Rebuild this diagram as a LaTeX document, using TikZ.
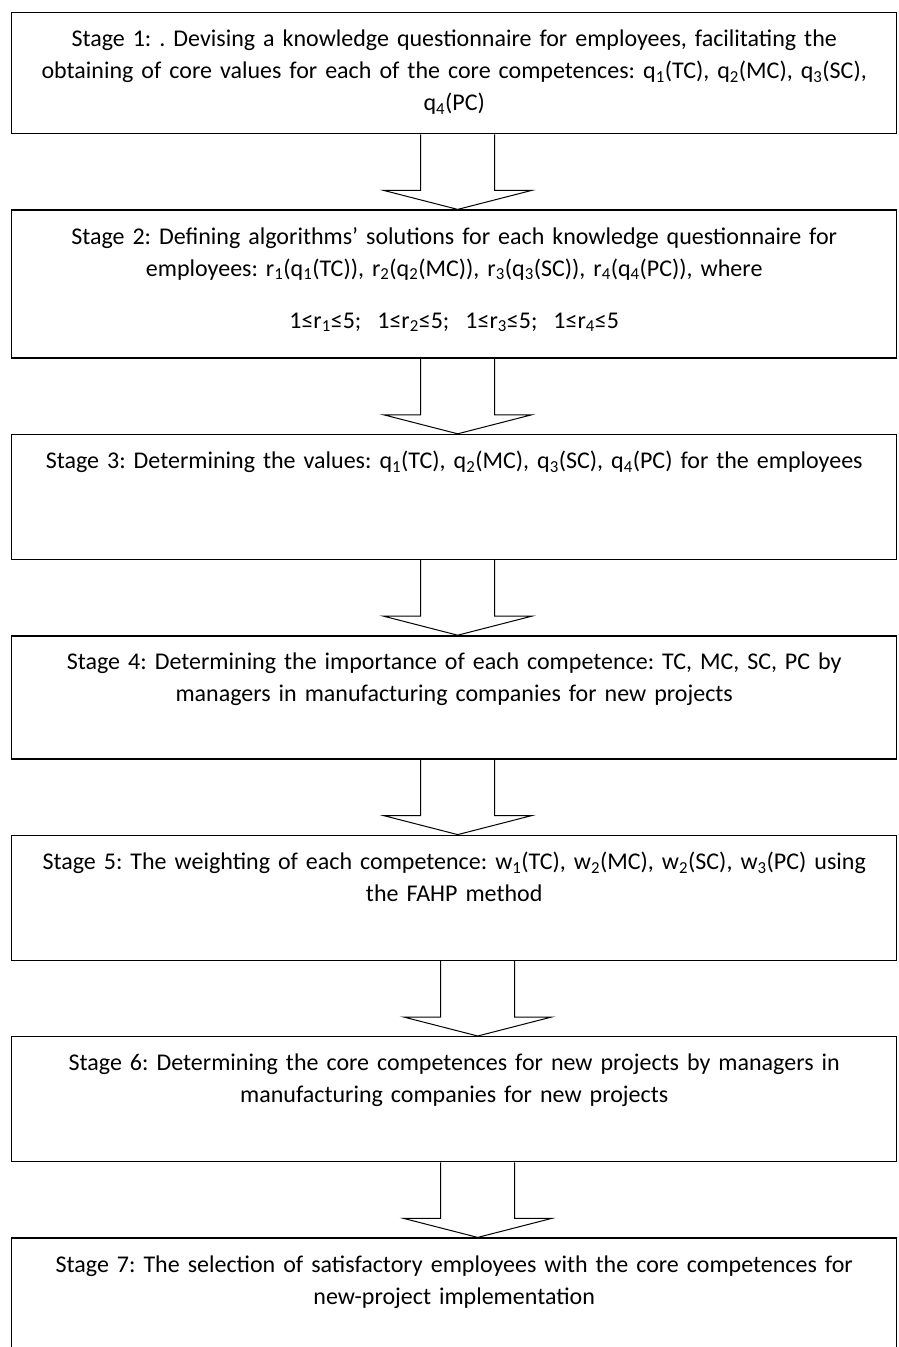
\documentclass[tikz,border=0pt]{standalone}
\usepackage{fontspec}
\setmainfont{Carlito}
\frenchspacing
\usetikzlibrary{positioning,calc}
\tikzset{
  stg/.style={rectangle,draw,line width=1.4pt,text width=885pt,inner sep=0pt,align=center,font=\fontsize{24}{32}\selectfont,text height=34pt},
  barr/.style={draw,line width=1pt,to path={let \p1=(\tikztostart),\p2=(\tikztotarget) in
    (\x1-37pt,\y1) -- (\x1-37pt,\y2+19pt) -- (\x1-74pt,\y2+19pt) -- (\x2,\y2) -- (\x1+74pt,\y2+19pt) -- (\x1+37pt,\y2+19pt) -- (\x1+37pt,\y1)}},
}
\begin{document}
\begin{tikzpicture}[node distance=75pt]
  \useasboundingbox (0,0) rectangle (898pt,-1347pt);
  \node[stg,text depth=87pt,anchor=north west] (s1) at (11pt,-12pt) {Stage 1: . Devising a knowledge questionnaire for employees, facilitating the\\ obtaining of core values for each of the core competences: q\textsubscript{1}(TC), q\textsubscript{2}(MC), q\textsubscript{3}(SC),\\ q\textsubscript{4}(PC)};
  \node[stg,text depth=114pt,below=of s1] (s2) {Stage 2: Defining algorithms’ solutions for each knowledge questionnaire for\\ employees: r\textsubscript{1}(q\textsubscript{1}(TC)), r\textsubscript{2}(q\textsubscript{2}(MC)), r\textsubscript{3}(q\textsubscript{3}(SC)), r\textsubscript{4}(q\textsubscript{4}(PC)), where\\[20pt] 1≤r\textsubscript{1}≤5;\ \ 1≤r\textsubscript{2}≤5;\ \ 1≤r\textsubscript{3}≤5;\ \ 1≤r\textsubscript{4}≤5};
  \node[stg,text depth=91pt,below=of s2] (s3) {Stage 3: Determining the values: q\textsubscript{1}(TC), q\textsubscript{2}(MC), q\textsubscript{3}(SC), q\textsubscript{4}(PC) for the employees};
  \node[stg,text depth=89pt,below=of s3] (s4) {Stage 4: Determining the importance of each competence: TC, MC, SC, PC by\\ managers in manufacturing companies for new projects};
  \node[stg,text depth=91pt,below=of s4] (s5) {Stage 5: The weighting of each competence: w\textsubscript{1}(TC), w\textsubscript{2}(MC), w\textsubscript{2}(SC), w\textsubscript{3}(PC) using\\ the FAHP method};
  \node[stg,text depth=91pt,below=of s5] (s6) {Stage 6: Determining the core competences for new projects by managers in\\ manufacturing companies for new projects};
  \node[stg,text depth=91pt,below=of s6] (s7) {Stage 7: The selection of satisfactory employees with the core competences for\\ new-project implementation};
  % block arrows between the stages
  \draw[barr] ([xshift=3.5pt]s1.south) to ([xshift=3.5pt]s2.north);
  \draw[barr] ([xshift=3.5pt]s2.south) to ([xshift=3.5pt]s3.north);
  \draw[barr] ([xshift=3.5pt]s3.south) to ([xshift=3.5pt]s4.north);
  \draw[barr] ([xshift=3.5pt]s4.south) to ([xshift=3.5pt]s5.north);
  \draw[barr] ([xshift=23.5pt]s5.south) to ([xshift=23.5pt]s6.north);
  \draw[barr] ([xshift=23.5pt]s6.south) to ([xshift=23.5pt]s7.north);
\end{tikzpicture}
\end{document}
